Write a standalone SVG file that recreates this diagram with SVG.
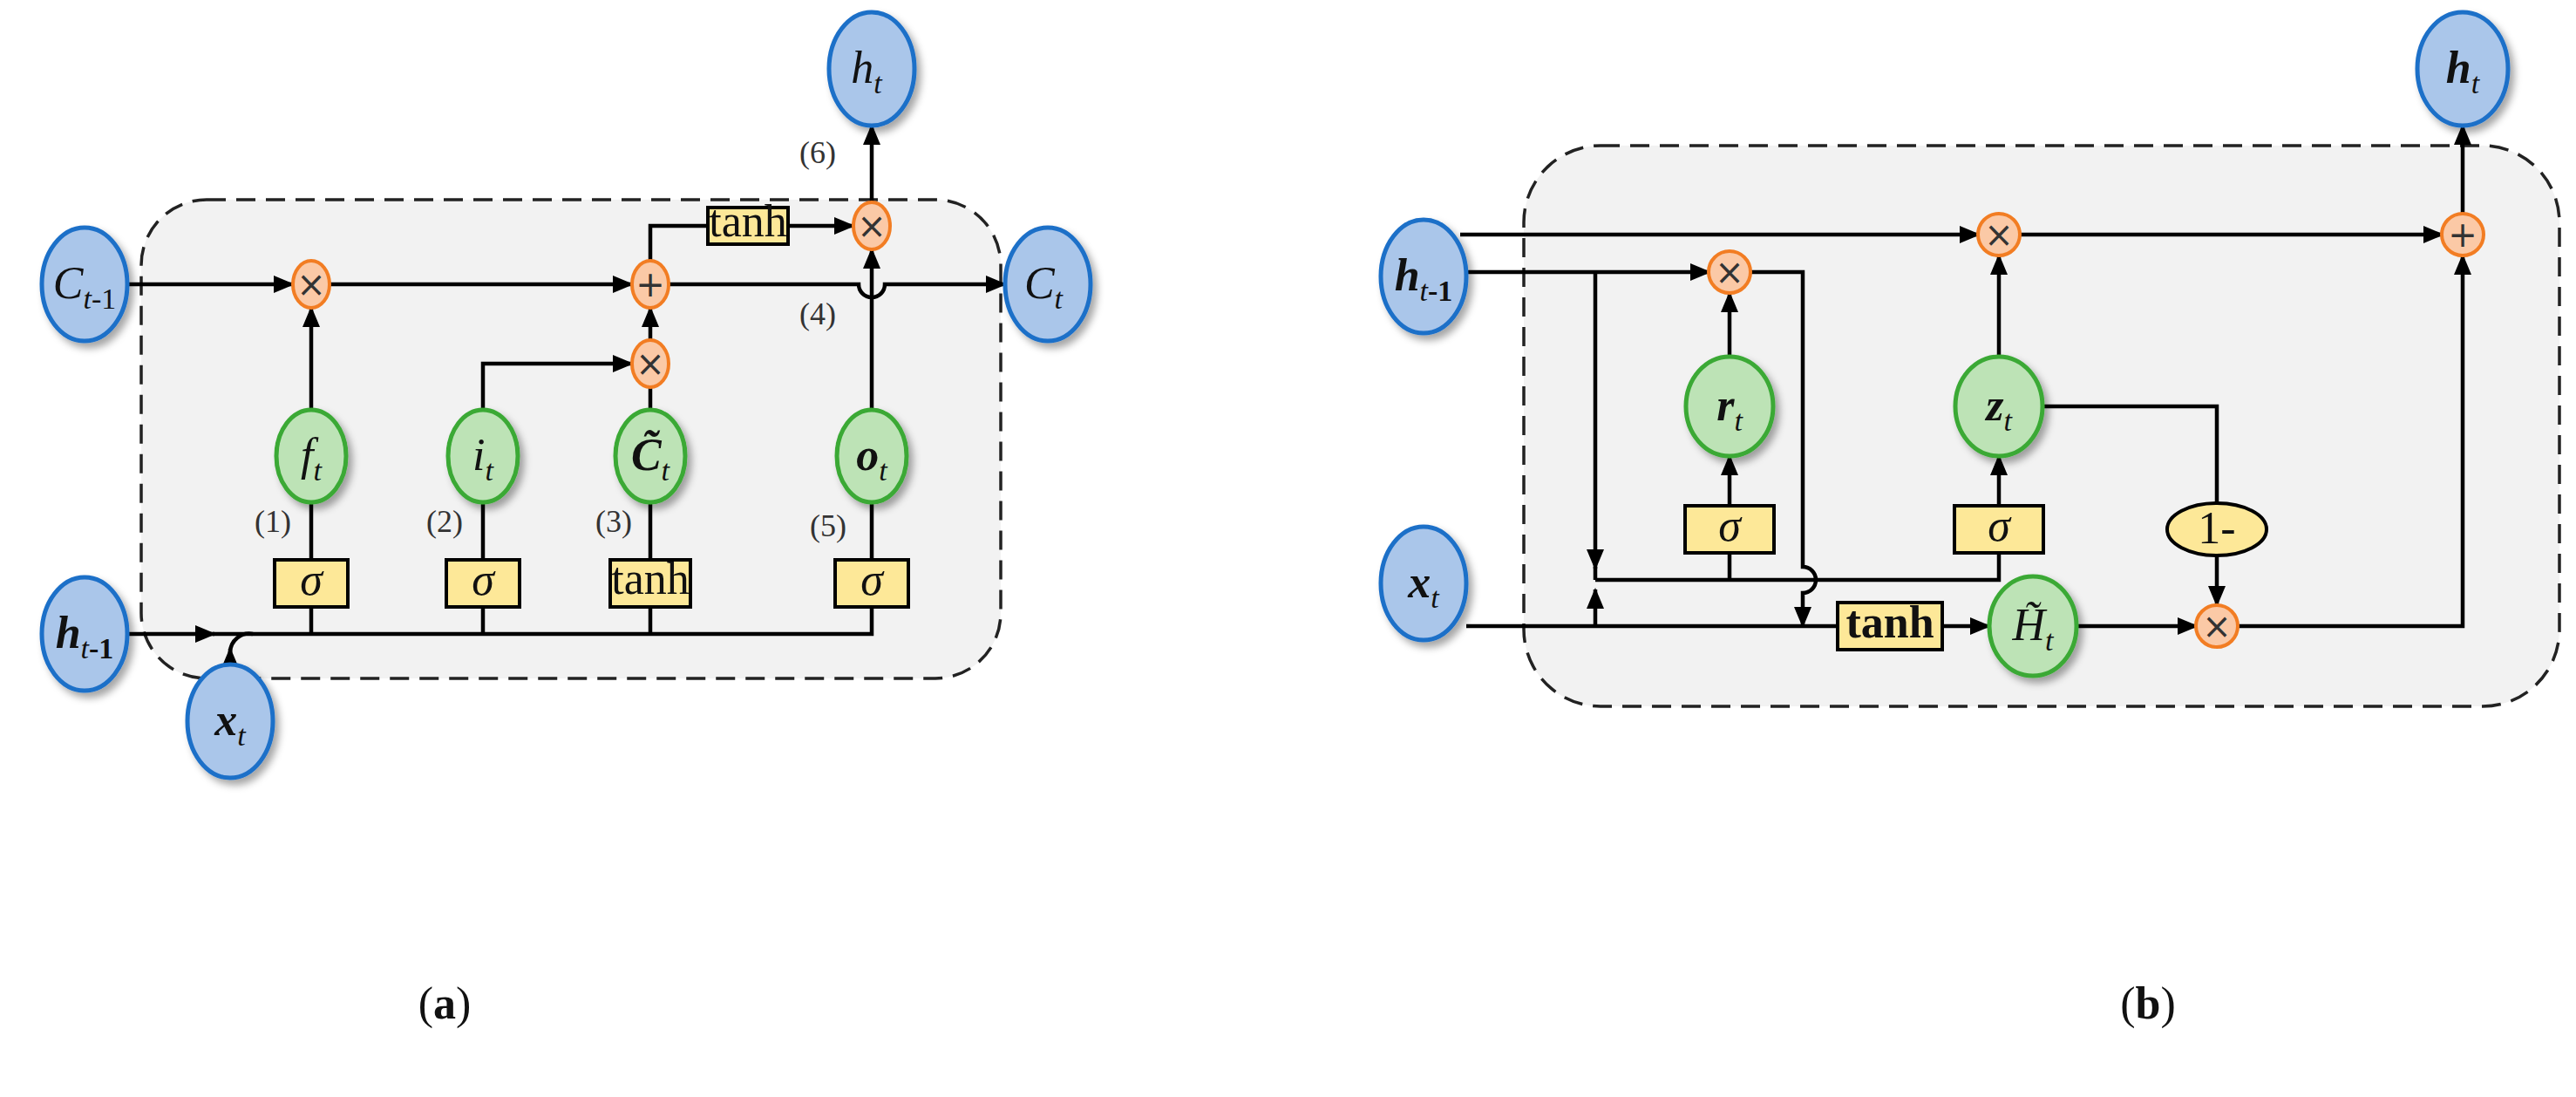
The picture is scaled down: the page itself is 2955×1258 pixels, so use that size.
<svg xmlns="http://www.w3.org/2000/svg" width="2955" height="1258" viewBox="0 0 2955 1258">
<defs>
<marker id="ah" markerUnits="userSpaceOnUse" markerWidth="24" markerHeight="20" refX="22" refY="10" orient="auto"><path d="M0,0 L24,10 L0,20 Z" fill="#000"/></marker>
<filter id="sh" x="-30%" y="-30%" width="170%" height="170%"><feDropShadow dx="5" dy="6" stdDeviation="4" flood-color="#000" flood-opacity="0.35"/></filter>
<style>
.blue{fill:#aac6ea;stroke:#1e6fc8;stroke-width:5;filter:url(#sh)}
.green{fill:#bde3b6;stroke:#3aa935;stroke-width:5;filter:url(#sh)}
.op{fill:#fbc9a6;stroke:#f27d23;stroke-width:4}
.box{fill:#fde898;stroke:#000;stroke-width:4}
.frame{fill:#f2f2f2;stroke:#222;stroke-width:3.5;stroke-dasharray:22 12}
.ln{fill:none;stroke:#000;stroke-width:4.5}
.ar{fill:none;stroke:#000;stroke-width:4.5;marker-end:url(#ah)}
.t{font-family:"Liberation Serif",serif;font-size:52px;fill:#111;text-anchor:middle}
.sym{font-family:"DejaVu Sans",sans-serif;font-size:40px;fill:#333;text-anchor:middle}
.num{font-family:"Liberation Serif",serif;font-size:36px;fill:#333;text-anchor:middle}
.it{font-style:italic}
.bi{font-style:italic;font-weight:bold}
.sub{font-size:34px}
</style>
</defs>
<rect width="2955" height="1258" fill="#fff"/>
<rect class="frame" x="162" y="229" width="986" height="549" rx="75"/>
<rect class="frame" x="1748" y="167" width="1188" height="643" rx="88"/>

<g id="connectors">
<line class="ar" x1="146" y1="326" x2="336" y2="326"/>
<line class="ar" x1="378" y1="326" x2="725" y2="326"/>
<path class="ar" d="M767,326 L985,326 A15,15 0 0 0 1015,326 L1153,326"/>
<line class="ar" x1="357" y1="470" x2="357" y2="353"/>
<path class="ar" d="M554,470 L554,417 L725,417"/>
<line class="ln" x1="746" y1="470" x2="746" y2="444"/>
<line class="ar" x1="746" y1="390" x2="746" y2="353"/>
<path class="ln" d="M746,299 L746,259 L817,259"/>
<line class="ar" x1="901" y1="259" x2="979" y2="259"/>
<line class="ar" x1="1000" y1="470" x2="1000" y2="286"/>
<line class="ar" x1="1000" y1="232" x2="1000" y2="144"/>
<line class="ln" x1="357" y1="642" x2="357" y2="576"/>
<line class="ln" x1="554" y1="642" x2="554" y2="576"/>
<line class="ln" x1="746" y1="642" x2="746" y2="576"/>
<line class="ln" x1="1000" y1="642" x2="1000" y2="576"/>
<line class="ar" x1="146" y1="727" x2="246" y2="727"/>
<path class="ln" d="M244,727 L1000,727 L1000,696"/>
<line class="ln" x1="357" y1="727" x2="357" y2="696"/>
<line class="ln" x1="554" y1="727" x2="554" y2="696"/>
<line class="ln" x1="746" y1="727" x2="746" y2="696"/>
<line class="ar" x1="264" y1="762" x2="264" y2="744"/>
<path class="ln" d="M264,748 A22,22 0 0 1 290,727"/>
<line class="ar" x1="1675" y1="269" x2="2270" y2="269"/>
<line class="ar" x1="2316" y1="269" x2="2802" y2="269"/>
<line class="ar" x1="2825" y1="245" x2="2825" y2="144"/>
<line class="ar" x1="1682" y1="312" x2="1961" y2="312"/>
<line class="ar" x1="1830" y1="312" x2="1830" y2="652"/>
<line class="ln" x1="1830" y1="650" x2="1830" y2="665"/>
<line class="ar" x1="1830" y1="718" x2="1830" y2="676"/>
<path class="ln" d="M1830,665 L2293,665 L2293,634"/>
<line class="ln" x1="1984" y1="665" x2="1984" y2="634"/>
<line class="ar" x1="1984" y1="580" x2="1984" y2="523"/>
<line class="ar" x1="1984" y1="409" x2="1984" y2="336"/>
<path class="ar" d="M2007,312 L2068,312 L2068,650 A15,15 0 0 1 2068,680 L2068,718"/>
<line class="ar" x1="2293" y1="580" x2="2293" y2="523"/>
<line class="ar" x1="2293" y1="409" x2="2293" y2="293"/>
<path class="ln" d="M2342,466 L2543,466 L2543,577"/>
<line class="ar" x1="2543" y1="637" x2="2543" y2="694"/>
<line class="ln" x1="1682" y1="718" x2="2108" y2="718"/>
<line class="ar" x1="2228" y1="718" x2="2282" y2="718"/>
<line class="ar" x1="2382" y1="718" x2="2520" y2="718"/>
<path class="ar" d="M2566,718 L2825,718 L2825,293"/>
</g>

<g id="a-Ctm1"><ellipse class="blue" cx="97" cy="326" rx="49" ry="65"/><text class="t" x="97" y="342"><tspan class="it">C</tspan><tspan class="sub it" dy="12">t</tspan><tspan class="sub">-1</tspan></text></g>
<g id="a-mul1"><ellipse class="op" cx="357" cy="326" rx="21" ry="27"/><text class="sym" x="357" y="340">×</text></g>
<g id="a-add"><ellipse class="op" cx="746" cy="326" rx="21" ry="27"/><text class="sym" x="746" y="340">+</text></g>
<g id="a-mul2"><ellipse class="op" cx="746" cy="417" rx="21" ry="27"/><text class="sym" x="746" y="431">×</text></g>
<g id="a-mul3"><ellipse class="op" cx="1000" cy="259" rx="21" ry="27"/><text class="sym" x="1000" y="273">×</text></g>
<g id="a-tanh1"><rect class="box" x="812" y="238" width="92" height="42"/><text class="t" x="858" y="271" font-size="36">tanh</text></g>
<g id="a-ht"><ellipse class="blue" cx="1000" cy="79" rx="49" ry="65"/><text class="t" x="994" y="95"><tspan class="it">h</tspan><tspan class="sub it" dy="12">t</tspan></text></g>
<g id="a-Ct"><ellipse class="blue" cx="1202" cy="326" rx="49" ry="65"/><text class="t" x="1197" y="342"><tspan class="it">C</tspan><tspan class="sub it" dy="12">t</tspan></text></g>
<g id="a-ft"><ellipse class="green" cx="357" cy="523" rx="40" ry="53"/><text class="t" x="357" y="539"><tspan class="it">f</tspan><tspan class="sub it" dy="12">t</tspan></text></g>
<g id="a-it"><ellipse class="green" cx="554" cy="523" rx="40" ry="53"/><text class="t" x="554" y="539"><tspan class="it">i</tspan><tspan class="sub it" dy="12">t</tspan></text></g>
<g id="a-Cht"><ellipse class="green" cx="746" cy="523" rx="40" ry="53"/><text class="t" x="746" y="539"><tspan class="bi">C̃</tspan><tspan class="sub it" dy="12">t</tspan></text></g>
<g id="a-ot"><ellipse class="green" cx="1000" cy="523" rx="40" ry="53"/><text class="t" x="1000" y="539"><tspan class="bi">o</tspan><tspan class="sub it" dy="12">t</tspan></text></g>
<g id="a-s1"><rect class="box" x="315" y="642" width="84" height="54"/><text class="t it" x="357" y="682" font-size="40">σ</text></g>
<g id="a-s2"><rect class="box" x="512" y="642" width="84" height="54"/><text class="t it" x="554" y="682" font-size="40">σ</text></g>
<g id="a-tanh2"><rect class="box" x="700" y="642" width="92" height="54"/><text class="t" x="746" y="681" font-size="36">tanh</text></g>
<g id="a-s3"><rect class="box" x="958" y="642" width="84" height="54"/><text class="t it" x="1000" y="682" font-size="40">σ</text></g>
<g id="a-htm1"><ellipse class="blue" cx="97" cy="727" rx="49" ry="65"/><text class="t" x="97" y="743"><tspan class="bi">h</tspan><tspan class="sub it" dy="12">t</tspan><tspan class="sub" font-weight="bold">-1</tspan></text></g>
<g id="a-xt"><ellipse class="blue" cx="264" cy="827" rx="49" ry="65"/><text class="t" x="264" y="843"><tspan class="bi">x</tspan><tspan class="sub it" dy="12">t</tspan></text></g>
<g id="a-labels">
<text class="num" x="313" y="610">(1)</text><text class="num" x="510" y="610">(2)</text><text class="num" x="704" y="610">(3)</text><text class="num" x="950" y="615">(5)</text>
<text class="num" x="938" y="372">(4)</text><text class="num" x="938" y="187">(6)</text>
</g>

<g id="b-htm1"><ellipse class="blue" cx="1633" cy="317" rx="49" ry="65"/><text class="t" x="1633" y="333"><tspan class="bi">h</tspan><tspan class="sub it" dy="12">t</tspan><tspan class="sub" font-weight="bold">-1</tspan></text></g>
<g id="b-xt"><ellipse class="blue" cx="1633" cy="669" rx="49" ry="65"/><text class="t" x="1633" y="685"><tspan class="bi">x</tspan><tspan class="sub it" dy="12">t</tspan></text></g>
<g id="b-ht"><ellipse class="blue" cx="2825" cy="79" rx="52" ry="65"/><text class="t" x="2825" y="95"><tspan class="bi">h</tspan><tspan class="sub it" dy="12">t</tspan></text></g>
<g id="b-mulz"><ellipse class="op" cx="2293" cy="269" rx="24" ry="24"/><text class="sym" x="2293" y="283">×</text></g>
<g id="b-add"><ellipse class="op" cx="2825" cy="269" rx="24" ry="24"/><text class="sym" x="2825" y="283">+</text></g>
<g id="b-mulr"><ellipse class="op" cx="1984" cy="312" rx="24" ry="24"/><text class="sym" x="1984" y="326">×</text></g>
<g id="b-rt"><ellipse class="green" cx="1984" cy="466" rx="50" ry="57"/><text class="t" x="1984" y="482"><tspan class="bi">r</tspan><tspan class="sub it" dy="12">t</tspan></text></g>
<g id="b-zt"><ellipse class="green" cx="2293" cy="466" rx="50" ry="57"/><text class="t" x="2293" y="482"><tspan class="bi">z</tspan><tspan class="sub it" dy="12">t</tspan></text></g>
<g id="b-sr"><rect class="box" x="1933" y="580" width="102" height="54"/><text class="t it" x="1984" y="620" font-size="40">σ</text></g>
<g id="b-sz"><rect class="box" x="2242" y="580" width="102" height="54"/><text class="t it" x="2293" y="620" font-size="40">σ</text></g>
<g id="b-one"><ellipse cx="2543" cy="607" rx="57" ry="30" fill="#fde898" stroke="#000" stroke-width="4"/><text class="t" x="2543" y="623" font-size="44">1-</text></g>
<g id="b-tanh"><rect class="box" x="2108" y="691" width="120" height="54"/><text class="t" x="2168" y="731" font-size="42" font-weight="bold">tanh</text></g>
<g id="b-Ht"><ellipse class="green" cx="2332" cy="718" rx="50" ry="57"/><text class="t" x="2332" y="734"><tspan class="it">H̃</tspan><tspan class="sub it" dy="12">t</tspan></text></g>
<g id="b-mulh"><ellipse class="op" cx="2543" cy="718" rx="24" ry="24"/><text class="sym" x="2543" y="732">×</text></g>

<text class="t" x="510" y="1168" font-size="54">(<tspan font-weight="bold">a</tspan>)</text>
<text class="t" x="2464" y="1168" font-size="54">(<tspan font-weight="bold">b</tspan>)</text>
</svg>
